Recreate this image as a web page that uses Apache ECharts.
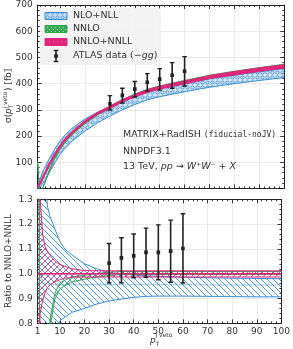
<!DOCTYPE html>
<html><head><meta charset="utf-8">
<script src="https://cdn.jsdelivr.net/npm/echarts@6/dist/echarts.min.js"></script>
<style>html,body{margin:0;padding:0;background:#fff}#c{width:293px;height:349px}</style>
</head><body><div id="c"></div>
<script>
// ---------- data ----------
const X = [1, 1.5, 2, 3, 4, 5, 6, 8, 10, 12, 15, 20, 25, 30, 35, 40, 45, 50, 60, 70, 80, 90, 100];
// top panel: sigma [fb]
const nnllC  = [3, 10, 18, 38, 58, 78, 96, 130, 160, 185, 215, 255, 286, 310, 334, 354, 372, 385, 405, 425, 440, 454, 466];
const nnllHi = [6, 16, 23, 44, 64, 85, 103, 137, 166, 191, 219, 259, 290, 314, 338, 358, 377, 390, 410, 430, 446, 460, 472];
const nnllLo = [0, 7, 15, 34, 54, 74, 92, 126, 156, 181, 211, 251, 282, 305, 329, 349, 366, 379, 399, 419, 433, 447, 459];
const nllC   = [3, 10, 18, 37, 56, 75, 92, 124, 153, 177, 205, 244, 273, 296, 319, 338, 355, 368, 387, 406, 420, 434, 445];
const nllHi  = [9, 20, 36, 64, 83, 102, 119, 153, 181, 204, 231, 265, 291, 312, 334, 352, 369, 381, 399, 418, 432, 445, 457];
const nllLo  = [0, 2, 5, 18, 31, 48, 66, 99, 130, 153, 182, 219, 250, 276, 300, 320, 338, 350, 369, 386, 400, 412, 423];
const nnloC  = [100, 20, -20, 2, 24, 51, 77, 118, 152, 178, 210, 251, 284, 310, 335, 355, 373, 386, 406, 426, 441, 455, 467];
const nnloHi = [103, 22, -18, 3, 25, 52, 79, 120, 155, 181, 213, 255, 288, 314, 339, 360, 378, 391, 412, 432, 447, 461, 474];
const nnloLo = [97, 18, -22, 1, 23, 50, 75, 116, 149, 175, 207, 247, 280, 306, 331, 350, 368, 381, 400, 420, 435, 449, 460];
// ratio panel
const nnllRC  = [1, 1, 1, 1, 1, 1, 1, 1, 1, 1, 1, 1, 1, 1, 1, 1, 1, 1, 1, 1, 1, 1, 1];
const nnllRHi = [2.0, 1.6, 1.3, 1.16, 1.11, 1.09, 1.075, 1.05, 1.038, 1.03, 1.02, 1.013, 1.012, 1.012, 1.012, 1.012, 1.012, 1.012, 1.012, 1.012, 1.012, 1.012, 1.012];
const nnllRLo = [0.0, 0.7, 0.84, 0.89, 0.925, 0.945, 0.955, 0.968, 0.976, 0.982, 0.986, 0.987, 0.987, 0.987, 0.987, 0.987, 0.987, 0.987, 0.987, 0.987, 0.987, 0.987, 0.987];
const nllRC   = [1.0, 1.0, 1.0, 0.97, 0.962, 0.958, 0.956, 0.956, 0.956, 0.956, 0.956, 0.956, 0.956, 0.956, 0.956, 0.956, 0.956, 0.956, 0.956, 0.955, 0.955, 0.955, 0.955];
const nllRHi  = [3.0, 2.2, 2.0, 1.6, 1.38, 1.27, 1.23, 1.18, 1.13, 1.10, 1.075, 1.04, 1.02, 1.005, 1.0, 0.995, 0.992, 0.99, 0.986, 0.984, 0.982, 0.981, 0.98];
const nllRLo  = [0.0, 0.0, 0.3, 0.45, 0.52, 0.6, 0.68, 0.76, 0.81, 0.825, 0.845, 0.86, 0.878, 0.89, 0.898, 0.905, 0.909, 0.91, 0.91, 0.909, 0.908, 0.907, 0.907];
const nnloRHi = [34, 2.1, -0.9, 0.07, 0.44, 0.68, 0.815, 0.922, 0.962, 0.974, 0.987, 0.994, 1.001, 1.007, 1.009, 1.009, 1.009, 1.009, 1.009, 1.009, 1.009, 1.009, 1.009];
const nnloRLo = [32, 1.9, -1.1, 0.03, 0.40, 0.64, 0.785, 0.898, 0.938, 0.952, 0.967, 0.978, 0.987, 0.993, 0.997, 0.997, 0.997, 0.997, 0.997, 0.997, 0.997, 0.997, 0.997];
// ATLAS data
const DX = [30, 35, 40, 45, 50, 55, 60];
const atlasC  = [323, 355, 379, 405, 417, 432, 447];
const atlasLo = [299, 326, 349, 372, 375, 382, 391];
const atlasHi = [354, 382, 408, 438, 457, 480, 503];
const atlasRC  = [1.043, 1.064, 1.072, 1.086, 1.086, 1.091, 1.102];
const atlasRLo = [0.963, 0.964, 0.984, 0.986, 0.976, 0.966, 0.963];
const atlasRHi = [1.122, 1.145, 1.160, 1.184, 1.197, 1.216, 1.242];
// ticks
const XLAB = [1, 10, 20, 30, 40, 50, 60, 70, 80, 90, 100];
const XMAJ = [10, 20, 30, 40, 50, 60, 70, 80, 90];
const XMIN = [2,4,6,8,12,14,16,18,22,24,26,28,32,34,36,38,42,44,46,48,52,54,56,58,62,64,66,68,72,74,76,78,82,84,86,88,92,94,96,98];

// ---------- styles ----------
const BLUE = '#3a8dd4', PINK = '#e0267c', GREEN = '#35a653', INK = '#222';
const FONT = '"DejaVu Sans"';
function mk(w, h, draw) {
  const c = document.createElement('canvas'); c.width = w; c.height = h;
  const g = c.getContext('2d'); draw(g); return {image: c, repeat: 'repeat'};
}
const blueRing = mk(5, 5, g => { g.fillStyle = 'rgba(140,190,235,0.35)'; g.fillRect(0,0,5,5);
  g.strokeStyle = BLUE; g.lineWidth = 0.9; g.beginPath(); g.arc(2.5,2.5,1.6,0,Math.PI*2); g.stroke(); });
function hatch(color, dir, s, lw) {
  return mk(s, s, g => { g.strokeStyle = color; g.lineWidth = lw; g.beginPath();
    if (dir > 0) { g.moveTo(0,0); g.lineTo(s,s); g.moveTo(-1,s-1); g.lineTo(1,s+1); g.moveTo(s-1,-1); g.lineTo(s+1,1); }
    else { g.moveTo(0,s); g.lineTo(s,0); g.moveTo(-1,1); g.lineTo(1,-1); g.moveTo(s-1,s+1); g.lineTo(s+1,s-1); }
    g.stroke(); });
}
const blueHatch = hatch(BLUE, 1, 6, 0.9);
const pinkHatch = hatch(PINK, -1, 6, 0.9);
const greenHatch = hatch(GREEN, -1, 5, 0.9);
const pinkTop = mk(4, 4, g => { g.fillStyle = PINK; g.fillRect(0,0,4,4); g.fillStyle = 'rgba(255,255,255,0.35)'; g.fillRect(1,1,1,1); });
const greenTop = mk(4, 4, g => { g.fillStyle = GREEN; g.fillRect(0,0,4,4); g.fillStyle = 'rgba(255,255,255,0.6)'; g.fillRect(1,1,1,1); g.fillRect(3,3,1,1); });

// ---------- helpers ----------
function clipY(poly, ymin, ymax) {
  function clip(p, inside, yb) {
    const out = [];
    for (let i = 0; i < p.length; i++) {
      const a = p[i], b = p[(i + 1) % p.length];
      const ai = inside(a), bi = inside(b);
      if (ai) out.push(a);
      if (ai !== bi) { const t = (yb - a[1]) / (b[1] - a[1]); out.push([a[0] + t * (b[0] - a[0]), yb]); }
    }
    return out;
  }
  let p = clip(poly, q => q[1] >= ymin, ymin);
  p = clip(p, q => q[1] <= ymax, ymax);
  return p;
}
function band(lo, hi, fill, xi, yi, z) {
  return {
    type: 'custom', xAxisIndex: xi, yAxisIndex: yi, z, silent: true, clip: true, animation: false,
    data: X.map((x, i) => [x, lo[i], hi[i]]), encode: {x: 0, y: [1, 2]},
    renderItem: (params, api) => {
      if (params.dataIndex !== 0) return null;
      const up = X.map((x, i) => api.coord([x, hi[i]]));
      const dn = X.map((x, i) => api.coord([x, lo[i]])).reverse();
      const cs = params.coordSys;
      const poly = clipY(up.concat(dn), cs.y, cs.y + cs.height);
      return {type: 'polygon', shape: {points: poly}, style: {fill: fill, stroke: null}};
    }
  };
}
function line(ys, color, width, type, xi, yi, z) {
  return {type: 'line', data: X.map((x, i) => [x, ys[i]]), xAxisIndex: xi, yAxisIndex: yi,
    showSymbol: false, symbol: 'none', lineStyle: {color, width, type}, z, silent: true, animation: false, clip: true};
}
function errbars(c, lo, hi, xi, yi) {
  return {type: 'custom', xAxisIndex: xi, yAxisIndex: yi, z: 20, silent: true, clip: true, animation: false,
    data: DX.map((x, i) => [x, c[i], lo[i], hi[i]]), encode: {x: 0, y: [1, 2, 3]},
    renderItem: (params, api) => {
      const x = api.value(0);
      const pc = api.coord([x, api.value(1)]), pl = api.coord([x, api.value(2)]), ph = api.coord([x, api.value(3)]);
      const w = 2.3;
      return {type: 'group', children: [
        {type: 'line', shape: {x1: pl[0], y1: pl[1], x2: ph[0], y2: ph[1]}, style: {stroke: INK, lineWidth: 1.6}},
        {type: 'line', shape: {x1: pl[0] - w, y1: pl[1], x2: pl[0] + w, y2: pl[1]}, style: {stroke: INK, lineWidth: 1.4}},
        {type: 'line', shape: {x1: ph[0] - w, y1: ph[1], x2: ph[0] + w, y2: ph[1]}, style: {stroke: INK, lineWidth: 1.4}},
        {type: 'rect', shape: {x: pc[0] - 1.8, y: pc[1] - 1.8, width: 3.6, height: 3.6}, style: {fill: INK}}
      ]};
    }
  };
}
const tickStyle = {color: INK, width: 0.9};
function xax(gi, pos, vals, len, showLine, labels, split) {
  return {type: 'value', gridIndex: gi, position: pos, min: 1, max: 100,
    axisLine: {show: showLine, onZero: false, lineStyle: {color: INK, width: 1}},
    axisTick: {show: true, inside: true, length: len, customValues: vals, lineStyle: tickStyle},
    axisLabel: labels ? {show: true, customValues: XLAB, margin: 4, color: '#333', fontSize: 9, fontFamily: FONT} : {show: false},
    splitLine: {show: split, lineStyle: {color: '#e4e4e4', width: 0.8}},
    minorTick: {show: false}, minorSplitLine: {show: false}};
}
function yax(gi, pos, min, max, iv, labels, split, fmt) {
  return {type: 'value', gridIndex: gi, position: pos, min, max, interval: iv,
    axisLine: {show: true, onZero: false, lineStyle: {color: INK, width: 1}},
    axisTick: {show: true, inside: true, length: 4, lineStyle: tickStyle},
    minorTick: {show: true, splitNumber: 5, length: 2, lineStyle: tickStyle},
    axisLabel: labels ? {show: true, margin: 5, formatter: fmt, color: '#333', fontSize: 9, fontFamily: FONT} : {show: false},
    splitLine: {show: split, lineStyle: {color: '#e4e4e4', width: 0.8}}};
}

const chart = echarts.init(document.getElementById('c'), null, {renderer: 'canvas'});
const T = (x, y, text, extra) => Object.assign({type: 'text', x, y, silent: true,
  style: Object.assign({text, font: '9px ' + FONT, fill: '#333', textVerticalAlign: 'middle', textAlign: 'left'}, extra || {})});

chart.setOption({
  animation: false,
  grid: [{left: 37.7, right: 8.8, top: 5, height: 183.4}, {left: 37.7, right: 8.8, top: 199.3, height: 124.1}],
  xAxis: [
    xax(0, 'bottom', XMAJ, 4, true, false, true),
    xax(0, 'bottom', XMIN, 2, false, false, false),
    xax(0, 'top', XMAJ, 4, true, false, false),
    xax(0, 'top', XMIN, 2, false, false, false),
    xax(1, 'bottom', XMAJ, 4, true, true, true),
    xax(1, 'bottom', XMIN, 2, false, false, false),
    xax(1, 'top', XMAJ, 4, true, false, false),
    xax(1, 'top', XMIN, 2, false, false, false)
  ],
  yAxis: [
    yax(0, 'left', 0, 700, 100, true, true, v => v === 0 ? '' : String(v)),
    yax(0, 'right', 0, 700, 100, false, false),
    yax(1, 'left', 0.8, 1.3, 0.1, true, true, v => v.toFixed(1)),
    yax(1, 'right', 0.8, 1.3, 0.1, false, false)
  ],
  series: [
    // top panel
    band(nllLo, nllHi, blueRing, 0, 0, 2),
    line(nllHi, BLUE, 1, 'solid', 0, 0, 3),
    line(nllLo, BLUE, 1, 'solid', 0, 0, 3),
    band(nnloLo, nnloHi, greenTop, 0, 0, 4),
    line(nnloHi, GREEN, 1, 'solid', 0, 0, 4),
    line(nnloLo, GREEN, 1, 'solid', 0, 0, 4),
    band(nnllLo, nnllHi, pinkTop, 0, 0, 5),
    line(nnllHi, PINK, 1, 'solid', 0, 0, 6),
    line(nnllLo, PINK, 1, 'solid', 0, 0, 6),
    line(nnllC, PINK, 1.2, 'solid', 0, 0, 6),
    errbars(atlasC, atlasLo, atlasHi, 0, 0),
    // ratio panel
    band(nllRLo, nllRHi, blueHatch, 4, 2, 2),
    line(nllRHi, BLUE, 1, 'solid', 4, 2, 3),
    line(nllRLo, BLUE, 1, 'solid', 4, 2, 3),
    line(nllRC, BLUE, 1, 'dotted', 4, 2, 3),
    band(nnloRLo, nnloRHi, greenHatch, 4, 2, 4),
    line(nnloRHi, GREEN, 1, 'solid', 4, 2, 4),
    line(nnloRLo, GREEN, 1, 'solid', 4, 2, 4),
    band(nnllRLo, nnllRHi, pinkHatch, 4, 2, 5),
    line(nnllRHi, PINK, 1, 'solid', 4, 2, 6),
    line(nnllRLo, PINK, 1, 'solid', 4, 2, 6),
    line(nnllRC, PINK, 1.5, 'solid', 4, 2, 7),
    errbars(atlasRC, atlasRLo, atlasRHi, 4, 2)
  ],
  graphic: [
    // legend
    {type: 'rect', silent: true, z: 50, shape: {x: 40, y: 8, width: 121, height: 57, r: 2}, style: {fill: 'rgba(242,242,242,0.9)', stroke: null}},
    {type: 'rect', silent: true, z: 51, shape: {x: 45, y: 12.5, width: 22, height: 7}, style: {fill: blueRing, stroke: BLUE, lineWidth: 1}},
    {type: 'rect', silent: true, z: 51, shape: {x: 45, y: 25.5, width: 22, height: 7}, style: {fill: greenTop, stroke: GREEN, lineWidth: 1}},
    {type: 'rect', silent: true, z: 51, shape: {x: 45, y: 38.5, width: 22, height: 7}, style: {fill: pinkTop, stroke: PINK, lineWidth: 1}},
    {type: 'line', silent: true, z: 51, shape: {x1: 56, y1: 50.5, x2: 56, y2: 61.5}, style: {stroke: INK, lineWidth: 1.6}},
    {type: 'line', silent: true, z: 51, shape: {x1: 53.7, y1: 50.5, x2: 58.3, y2: 50.5}, style: {stroke: INK, lineWidth: 1.4}},
    {type: 'line', silent: true, z: 51, shape: {x1: 53.7, y1: 61.5, x2: 58.3, y2: 61.5}, style: {stroke: INK, lineWidth: 1.4}},
    {type: 'rect', silent: true, z: 51, shape: {x: 54.2, y: 54.2, width: 3.6, height: 3.6}, style: {fill: INK}},
    Object.assign(T(73, 16, 'NLO+NLL', {font: '9.5px ' + FONT}), {z: 52}),
    Object.assign(T(73, 29, 'NNLO', {font: '9.5px ' + FONT}), {z: 52}),
    Object.assign(T(73, 42, 'NNLO+NNLL', {font: '9.5px ' + FONT}), {z: 52}),
    Object.assign(T(73, 56, '{n|ATLAS data (−}{i|gg}{n|)}', {font: '9.5px ' + FONT,
      rich: {n: {font: '9.5px ' + FONT, fill: '#333'}, i: {font: 'italic 9.5px ' + FONT, fill: '#333'}}}), {z: 52}),
    // annotation
    Object.assign(T(123, 135, '{a|MATRIX+RadISH }{m|(fiducial-noJV)}', {
      rich: {a: {font: '9.5px ' + FONT, fill: '#333'}, m: {font: '8px "DejaVu Sans Mono"', fill: '#333'}}}), {z: 52}),
    Object.assign(T(123, 152, 'NNPDF3.1', {font: '9.5px ' + FONT}), {z: 52}),
    Object.assign(T(123, 167, '{a|13 TeV, }{i|pp}{a| → }{i|W⁺W⁻}{a| + }{i|X}', {
      rich: {a: {font: '9.5px ' + FONT, fill: '#333'}, i: {font: 'italic 9.5px ' + FONT, fill: '#333'}}}), {z: 52}),
    // y title top (rotated)
    {type: 'group', x: 9, y: 123, rotation: Math.PI / 2, silent: true, children: [
      T(0, 0, 'σ('),
      T(9, 0, 'p', {font: 'italic 9px ' + FONT}),
      T(14.5, 2.5, 'T', {font: '6px ' + FONT}),
      T(14.5, -3.5, 'j veto', {font: '6px ' + FONT}),
      T(32, 0, ') [fb]')
    ]},
    // y title bottom
    {type: 'group', x: 9, y: 261, rotation: Math.PI / 2, silent: true, children: [
      T(0, 0, 'Ratio to NNLO+NNLL', {textAlign: 'center'})
    ]},
    // x title
    T(150, 341, 'p', {font: 'italic 9px ' + FONT}),
    T(155.5, 344, 'T', {font: '6px ' + FONT}),
    T(155.5, 335, 'j veto', {font: '6px ' + FONT})
  ]
});
</script></body></html>
